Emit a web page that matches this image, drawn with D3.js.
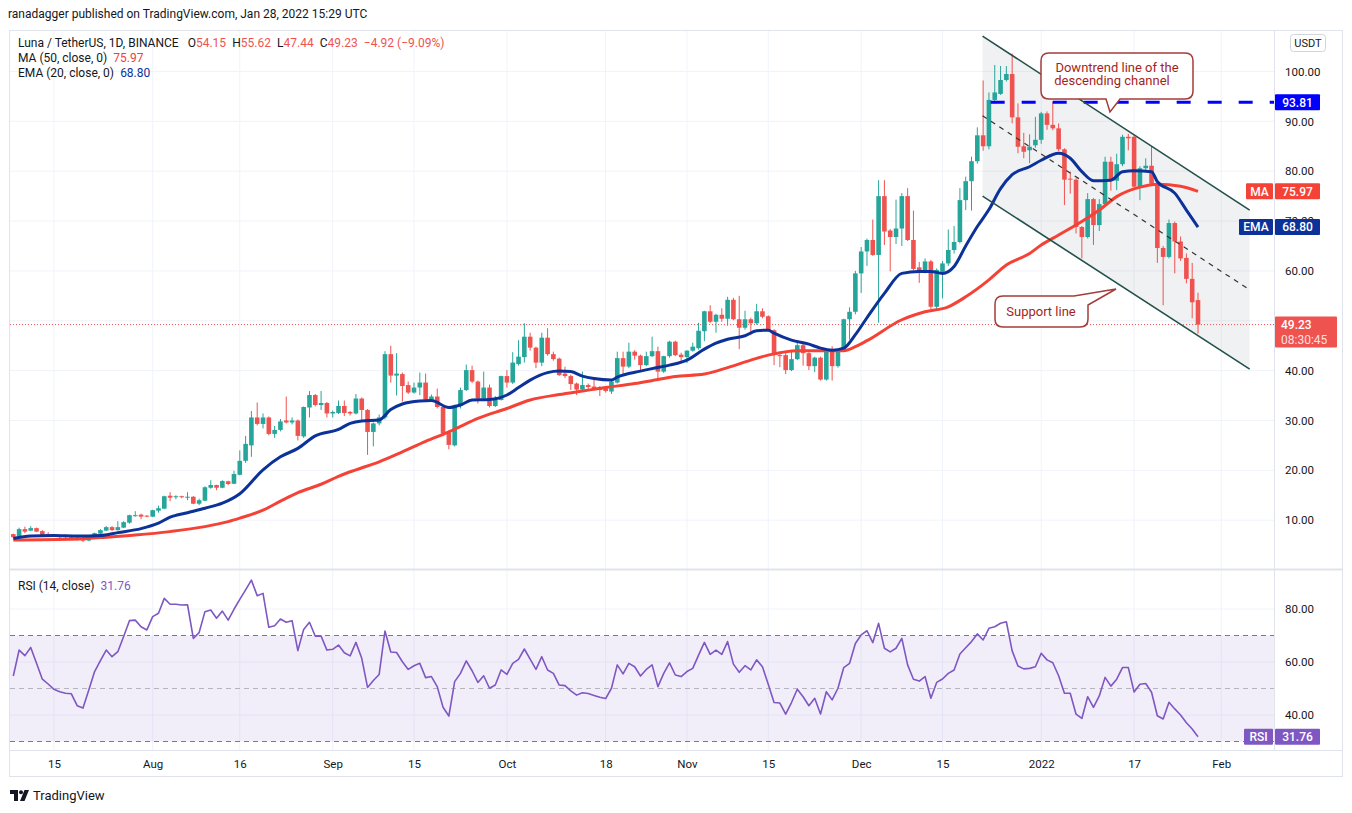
<!DOCTYPE html>
<html>
<head>
<meta charset="utf-8">
<script src="https://d3js.org/d3.v7.min.js"></script>
<title>Luna / TetherUS 1D</title>
<style>
  html, body { margin: 0; padding: 0; background: #fff; }
  svg { display: block; font-family: Roboto, "Liberation Sans", Arial, sans-serif; }
</style>
</head>
<body>
<svg id="chart" width="1352" height="813"></svg>
<script>
// ---- data (daily candles from 2021-07-08 to 2022-01-28) ----
const startDate = "2021-07-08";

const opens = [
  7.2, 6.6, 8.2, 7.9, 8.4, 7.8, 7.2, 7.0, 6.8, 6.8,
  6.7, 6.55, 6.5, 5.9, 6.55, 7.3, 7.9, 8.6, 8.0, 8.5,
  9.5, 10.9, 11.1, 10.9, 10.7, 11.9, 12.3, 14.9, 14.6, 14.8,
  14.6, 14.7, 13.3, 13.9, 16.5, 17.05, 16.5, 17.8, 17.3, 19.1,
  21.9, 25.0, 30.6, 29.3, 30.6, 27.3, 28.1, 30.0, 29.6, 30.0,
  26.8, 32.6, 35.1, 33.1, 33.5, 31.4, 31.5, 32.9, 31.7, 31.4,
  34.4, 32.1, 27.7, 29.4, 30.6, 43.3, 39.0, 39.3, 37.1, 35.6,
  36.6, 37.6, 34.2, 34.8, 32.7, 27.5, 25.0, 32.9, 36.1, 40.1,
  37.8, 34.4, 36.6, 32.9, 34.1, 38.9, 37.6, 41.3, 42.7, 46.8,
  44.6, 41.6, 46.6, 43.3, 42.4, 39.4, 38.9, 37.4, 36.2, 37.1,
  36.8, 36.7, 36.6, 35.8, 37.6, 42.5, 40.8, 43.8, 43.0, 41.1,
  42.9, 43.9, 39.8, 42.9, 45.8, 43.2, 42.7, 44.0, 44.5, 47.9,
  51.9, 49.8, 51.2, 50.4, 54.2, 50.3, 48.6, 50.3, 49.5, 51.9,
  50.9, 48.1, 43.1, 43.1, 40.1, 42.3, 45.1, 43.5, 40.9, 42.6,
  38.2, 43.8, 40.9, 44.1, 50.3, 51.8, 59.5, 63.9, 66.2, 63.2,
  75.0, 68.1, 66.8, 68.5, 75.0, 66.2, 60.7, 59.9, 61.9, 52.8,
  59.8, 61.5, 64.2, 65.8, 74.2, 78.0, 82.0, 87.2, 85.0, 94.3,
  95.5, 98.3, 99.5, 90.8, 85.0, 84.2, 85.2, 86.3, 91.6, 89.3,
  88.6, 84.4, 78.5, 78.3, 68.8, 66.8, 74.4, 69.2, 73.4, 81.9,
  78.1, 81.4, 86.9, 86.9, 76.9, 80.6, 81.1, 77.5, 64.6, 62.8,
  69.6, 65.9, 62.6, 58.4, 54.15
];
const highs = [
  7.3, 8.5, 8.7, 8.8, 8.5, 8.0, 7.6, 7.2, 7.0, 7.1,
  7.0, 6.7, 6.6, 6.7, 7.5, 8.2, 8.8, 8.8, 9.8, 9.8,
  11.1, 11.8, 11.3, 11.0, 12.1, 12.9, 14.9, 15.6, 15.0, 14.9,
  15.6, 14.8, 14.3, 16.8, 18.0, 17.1, 18.0, 17.9, 19.9, 24.0,
  26.9, 31.9, 33.6, 31.4, 30.8, 28.9, 30.3, 34.8, 30.6, 30.2,
  32.8, 35.9, 35.3, 35.9, 33.7, 32.0, 34.0, 34.0, 31.9, 35.3,
  34.6, 32.3, 29.6, 31.2, 43.9, 45.0, 43.5, 39.6, 37.8, 37.6,
  39.6, 39.4, 35.2, 36.4, 33.0, 28.0, 33.2, 36.6, 41.2, 41.0,
  38.0, 39.8, 37.2, 34.9, 39.0, 40.1, 43.7, 46.1, 49.5, 47.6,
  44.8, 47.6, 48.5, 43.8, 42.6, 40.8, 39.2, 37.6, 39.8, 37.4,
  38.5, 36.9, 36.8, 38.2, 43.8, 43.8, 45.6, 44.1, 43.2, 43.8,
  46.8, 44.8, 43.0, 46.0, 46.0, 43.6, 44.1, 45.6, 49.6, 52.0,
  53.1, 51.4, 52.5, 54.8, 54.6, 55.0, 52.0, 50.6, 53.4, 52.5,
  51.1, 48.3, 43.4, 43.6, 43.8, 45.8, 45.4, 43.7, 42.8, 42.8,
  44.5, 44.9, 44.3, 50.4, 52.7, 60.0, 64.8, 66.5, 70.3, 78.2,
  78.2, 68.4, 74.3, 75.6, 76.6, 72.1, 61.8, 62.5, 62.2, 60.5,
  62.0, 68.3, 69.0, 76.6, 78.9, 82.9, 88.8, 98.2, 95.8, 101.3,
  101.1, 101.1, 103.6, 93.6, 87.7, 87.4, 90.9, 91.9, 92.0, 93.9,
  89.6, 84.6, 79.9, 78.6, 69.0, 75.6, 74.6, 74.4, 82.9, 82.9,
  83.5, 87.3, 87.5, 87.3, 81.0, 82.6, 85.0, 78.0, 65.0, 70.3,
  69.9, 66.9, 63.5, 61.6, 55.62
];
const lows = [
  6.4, 6.4, 7.4, 7.8, 7.6, 6.9, 6.7, 6.6, 6.4, 6.4,
  6.3, 5.9, 5.6, 5.8, 6.4, 7.2, 7.8, 7.8, 7.9, 8.4,
  9.3, 10.7, 10.2, 10.6, 10.6, 11.5, 12.2, 13.8, 14.2, 14.4,
  14.0, 13.2, 13.0, 13.8, 16.3, 16.0, 16.4, 17.0, 17.2, 19.0,
  21.5, 22.7, 29.0, 28.4, 27.0, 26.5, 27.8, 29.4, 29.2, 26.0,
  26.5, 30.6, 32.8, 32.1, 30.6, 30.6, 31.3, 30.9, 31.0, 31.2,
  30.1, 23.1, 24.8, 29.0, 30.2, 37.6, 35.0, 33.8, 35.3, 35.4,
  35.1, 33.9, 33.9, 32.4, 26.8, 24.2, 24.8, 32.4, 35.9, 37.5,
  33.4, 34.1, 32.6, 32.7, 34.0, 36.6, 37.3, 41.0, 41.6, 44.0,
  40.5, 40.9, 43.0, 42.0, 38.9, 38.5, 36.1, 35.1, 35.9, 36.3,
  36.0, 34.9, 35.6, 35.3, 37.4, 39.1, 40.5, 42.2, 40.1, 40.9,
  42.7, 38.4, 39.5, 42.6, 42.9, 41.4, 41.5, 43.8, 44.2, 45.9,
  49.5, 47.6, 49.8, 49.0, 50.1, 44.3, 48.2, 47.1, 49.2, 50.5,
  48.0, 41.1, 40.7, 39.3, 39.9, 42.1, 41.0, 40.1, 39.7, 38.0,
  38.0, 38.0, 40.6, 43.9, 46.2, 51.3, 55.6, 61.0, 63.0, 49.6,
  65.2, 59.9, 65.4, 65.0, 66.0, 60.1, 57.6, 59.5, 52.3, 52.2,
  54.5, 61.0, 63.5, 65.5, 72.2, 72.1, 81.5, 84.1, 84.4, 93.5,
  95.3, 98.0, 89.6, 83.6, 82.6, 81.6, 84.7, 85.5, 88.3, 88.2,
  84.0, 73.2, 75.5, 67.5, 62.5, 66.5, 65.2, 68.0, 73.0, 76.1,
  76.2, 81.0, 84.2, 76.5, 74.2, 80.2, 77.2, 61.6, 53.1, 62.5,
  59.5, 62.0, 57.5, 50.5, 47.44
];
const closes = [
  6.6, 8.2, 7.7, 8.4, 7.7, 7.0, 6.9, 6.7, 6.6, 6.6,
  6.5, 6.0, 5.9, 6.55, 7.4, 8.0, 8.6, 8.0, 8.6, 9.6,
  11.0, 11.0, 10.7, 10.8, 12.0, 12.4, 14.8, 14.5, 14.8, 14.6,
  14.7, 13.3, 14.0, 16.6, 17.05, 16.5, 17.85, 17.25, 19.26, 21.9,
  25.3, 30.6, 29.3, 30.6, 27.3, 28.1, 29.8, 29.6, 30.0, 26.9,
  32.7, 35.1, 33.1, 33.5, 31.4, 31.7, 32.9, 31.5, 31.4, 34.4,
  32.1, 27.7, 29.4, 30.6, 43.3, 39.0, 39.4, 36.9, 35.6, 36.6,
  37.6, 34.2, 34.8, 32.7, 27.4, 25.1, 33.0, 36.1, 40.1, 37.8,
  34.4, 36.6, 32.9, 34.1, 38.9, 37.6, 41.6, 42.8, 46.8, 44.6,
  41.6, 46.6, 43.3, 42.3, 39.1, 38.9, 37.3, 36.2, 37.1, 36.7,
  36.3, 36.1, 35.9, 37.8, 42.5, 40.8, 43.8, 43.0, 41.1, 42.9,
  43.9, 39.8, 42.9, 45.8, 43.1, 42.7, 44.0, 44.8, 48.0, 51.9,
  49.8, 51.2, 50.4, 54.2, 50.3, 48.6, 50.3, 49.5, 51.9, 50.8,
  48.1, 43.3, 42.9, 40.1, 42.3, 45.1, 43.5, 40.9, 42.6, 38.2,
  43.8, 40.9, 44.1, 50.3, 51.8, 59.5, 63.9, 66.2, 63.2, 75.0,
  67.9, 66.8, 68.5, 75.0, 66.2, 60.4, 59.9, 61.9, 52.8, 60.2,
  61.5, 64.2, 65.8, 74.2, 78.0, 82.0, 87.2, 85.0, 94.3, 95.8,
  98.3, 99.5, 90.8, 84.9, 83.9, 84.9, 86.3, 91.6, 89.3, 88.6,
  84.4, 78.3, 78.3, 68.8, 66.8, 74.4, 69.2, 73.4, 81.9, 78.1,
  81.4, 86.9, 86.6, 76.9, 80.6, 81.1, 77.5, 64.6, 62.8, 69.6,
  65.9, 62.5, 58.4, 53.7, 49.23
];

// RSI (14) per candle
const rsiValues = [
  54.7, 64.5, 62.4, 65.5, 59.5, 53.5, 51.7, 49.7, 48.8, 48.2,
  48.0, 43.5, 42.6, 49.4, 56.4, 60.5, 64.5, 62.0, 63.9, 69.6,
  75.6, 75.8, 73.3, 72.1, 77.1, 78.4, 84.0, 81.8, 81.8, 81.5,
  81.6, 68.9, 71.1, 79.0, 79.6, 76.5, 79.2, 75.8, 79.9, 83.6,
  87.2, 90.9, 85.0, 85.9, 73.1, 73.7, 76.2, 75.0, 75.6, 64.3,
  72.3, 75.0, 69.7, 69.8, 64.5, 64.8, 66.4, 63.5, 62.3, 67.4,
  61.4, 50.4, 53.0, 55.3, 71.7, 63.8, 63.6, 60.1, 57.2, 58.6,
  59.5, 54.1, 54.5, 50.7, 42.9, 39.6, 52.6, 55.7, 60.4, 56.7,
  52.3, 54.8, 50.1, 51.3, 57.0, 55.3, 59.5, 61.0, 64.9, 61.1,
  57.2, 62.0, 57.0, 55.7, 51.3, 51.1, 49.1, 47.5, 48.4, 48.1,
  47.4, 46.7, 46.2, 50.1, 58.9, 55.5, 59.5, 58.2, 54.7, 57.2,
  58.9, 50.7, 55.7, 59.7, 55.1, 54.5, 56.4, 57.6, 62.6, 67.4,
  62.9, 64.5, 62.9, 67.7, 59.2, 56.1, 58.6, 57.0, 60.8, 58.2,
  51.6, 44.7, 44.5, 40.3, 44.7, 49.7, 46.9, 43.5, 46.3, 40.4,
  48.8, 45.7, 50.1, 57.9, 59.5, 67.0, 70.2, 71.8, 67.3, 74.6,
  65.2, 63.8, 65.2, 68.9, 58.9, 53.5, 52.8, 54.5, 46.3, 52.3,
  53.6, 55.7, 57.0, 63.0, 65.4, 67.7, 70.6, 68.3, 72.7, 73.3,
  74.6, 75.2, 64.2, 58.5, 57.4, 57.6, 58.2, 63.3, 60.8, 59.7,
  54.8, 48.2, 48.2, 40.3, 38.7, 46.9, 42.9, 47.2, 54.2, 50.9,
  53.5, 57.9, 57.9, 48.7, 51.6, 51.9, 48.6, 39.7, 38.5, 44.8,
  42.3, 40.0, 37.1, 34.7, 31.76
];

// moving averages: [day offset from startDate, value]
const maPoints = [
  [0, 6.0], [11, 6.2], [15, 6.5], [21, 7.0], [27, 7.7], [33, 8.7], [37, 9.7], [39, 10.4],
  [43, 12.0], [46, 13.8], [49, 15.5], [53, 17.2], [56, 18.8], [59, 20.1], [63, 21.7],
  [67, 23.7], [71, 25.8], [75, 27.7], [77, 28.8], [80, 30.4], [85, 32.4], [89, 34.1],
  [94, 35.2], [98, 35.9], [102, 36.6], [107, 37.4], [111, 38.2], [114, 38.8], [119, 39.3],
  [123, 40.6], [127, 42.1], [130, 43.1], [135, 44.0], [139, 44.0], [143, 44.0], [145, 44.8],
  [147, 46.0], [153, 50.2], [157, 51.8], [161, 52.8], [164, 54.8], [168, 58.2], [171, 61.2],
  [175, 63.5], [177, 65.2], [180, 67.2], [184, 69.9], [187, 72.2], [190, 74.9], [194, 76.8],
  [197, 77.4], [201, 77.0], [204, 75.97]
];
const emaPoints = [
  [0, 6.3], [3, 6.8], [7, 6.9], [11, 6.8], [15, 6.9], [18, 7.5], [22, 8.3], [25, 9.4],
  [27, 10.6], [30, 11.5], [33, 12.4], [36, 13.4], [39, 15.3], [43, 20.1], [46, 22.7],
  [49, 24.4], [52, 26.9], [56, 28.2], [58, 29.4], [60, 29.9], [63, 30.1], [65, 32.2],
  [67, 33.3], [70, 33.9], [72, 34.0], [75, 32.6], [77, 33.1], [79, 34.1], [82, 34.2],
  [85, 35.1], [87, 36.6], [89, 38.1], [92, 39.6], [94, 39.9], [96, 39.8], [98, 38.9],
  [100, 38.4], [103, 38.1], [104, 38.7], [108, 39.9], [110, 40.4], [113, 41.1], [116, 42.1],
  [119, 44.3], [121, 45.5], [123, 46.3], [126, 47.0], [128, 48.0], [130, 48.1], [131, 47.5],
  [134, 46.1], [137, 45.3], [139, 44.5], [141, 44.1], [143, 44.5], [145, 47.2], [147, 50.6],
  [150, 55.5], [153, 59.5], [156, 59.9], [158, 59.9], [160, 59.5], [162, 60.9], [164, 65.0],
  [166, 68.9], [168, 72.3], [170, 76.5], [172, 79.3], [175, 80.9], [177, 82.2], [180, 83.6],
  [182, 82.6], [184, 79.9], [186, 78.1], [189, 78.2], [191, 79.9], [193, 80.1], [196, 79.9],
  [197, 77.9], [200, 75.6], [202, 72.2], [204, 68.8]
];

// drawings: [day offset, price]
const channelUpper = [[166.9, 107.1], [212.9, 72.2]];
const channelLower = [[166.9, 75.0], [212.9, 40.3]];
const channelMid = [[166.9, 91.1], [212.9, 56.2]];
const resistanceLevel = 93.81;
const resistanceStart = 168.3;

const priceTicks = [10, 20, 30, 40, 50, 60, 70, 80, 90, 100];
const rsiTicks = [40, 60, 80];
const timeTicks = ["2021-07-15", "2021-08-01", "2021-08-16", "2021-09-01", "2021-09-15",
  "2021-10-01", "2021-10-18", "2021-11-01", "2021-11-15", "2021-12-01", "2021-12-15",
  "2022-01-01", "2022-01-17", "2022-02-01"];
const timeTickLabels = ["15", "Aug", "16", "Sep", "15", "Oct", "18", "Nov", "15", "Dec",
  "15", "2022", "17", "Feb"];

const last = { o: 54.15, h: 55.62, l: 47.44, c: 49.23, chg: "\u22124.92", pct: "(\u22129.09%)",
  ma: 75.97, ema: 68.80, rsi: 31.76, countdown: "08:30:45" };

// ---- layout ----
const UP = "#26a69a", DOWN = "#ef5350", MA_C = "#f44336", EMA_C = "#0c3299",
  RSI_C = "#7e57c2", TXT = "#131722", GRID = "#f0f3fa", BORDER = "#e0e3eb";
const paneL = 10, paneR = 1274, mainT = 31, mainB = 568, rsiT = 570, rsiB = 750;

const svg = d3.select("#chart");
const t0 = new Date(startDate + "T00:00:00Z");
const dayDate = d => new Date(t0.getTime() + d * 864e5);
const dates = closes.map((c, i) => d3.utcDay.offset(t0, i));

const x = d3.scaleUtc().domain([dates[0], dates[dates.length - 1]]).range([13.3, 1198]);
const y = d3.scaleLinear().domain([0, 100]).range([570, 71.5]);
const yR = d3.scaleLinear().domain([30, 80]).range([741.5, 609]);
const tickDates = timeTicks.map(s => new Date(s + "T00:00:00Z"));

const defs = svg.append("defs");
defs.append("clipPath").attr("id", "clipMain").append("rect")
  .attr("x", paneL).attr("y", mainT).attr("width", paneR - paneL).attr("height", mainB - mainT);
defs.append("clipPath").attr("id", "clipRsi").append("rect")
  .attr("x", paneL).attr("y", rsiT).attr("width", paneR - paneL).attr("height", rsiB - rsiT);

// header
svg.append("text").attr("x", 8).attr("y", 18).attr("fill", TXT).style("font-size", "12px")
  .text("ranadagger published on TradingView.com, Jan 28, 2022 15:29 UTC");

// grid
const grid = svg.append("g");
grid.selectAll("line.h").data(priceTicks).join("line")
  .attr("x1", paneL).attr("x2", paneR).attr("y1", d => y(d)).attr("y2", d => y(d))
  .attr("stroke", GRID);
grid.selectAll("line.r").data(rsiTicks).join("line")
  .attr("x1", paneL).attr("x2", paneR).attr("y1", d => yR(d)).attr("y2", d => yR(d))
  .attr("stroke", GRID);
grid.selectAll("line.v").data(tickDates).join("line")
  .attr("x1", d => x(d)).attr("x2", d => x(d)).attr("y1", mainT).attr("y2", rsiB)
  .attr("stroke", GRID);

// frame and separators
svg.append("rect").attr("x", 9.5).attr("y", 30.5).attr("width", 1333).attr("height", 746)
  .attr("fill", "none").attr("stroke", BORDER);
svg.append("line").attr("x1", 9.5).attr("x2", 1342.5).attr("y1", 569.5).attr("y2", 569.5)
  .attr("stroke", BORDER).attr("stroke-width", 2);
svg.append("line").attr("x1", 9.5).attr("x2", 1342.5).attr("y1", rsiB + 0.5).attr("y2", rsiB + 0.5)
  .attr("stroke", BORDER);
svg.append("line").attr("x1", paneR + 0.5).attr("x2", paneR + 0.5).attr("y1", 30).attr("y2", rsiB)
  .attr("stroke", BORDER);

// ---- main pane ----
const main = svg.append("g").attr("clip-path", "url(#clipMain)");
const pt = p => [x(dayDate(p[0])), y(p[1])];

// channel fill
main.append("path")
  .attr("d", d3.line()([pt(channelUpper[0]), pt(channelUpper[1]), pt(channelLower[1]), pt(channelLower[0])]) + "Z")
  .attr("fill", "rgba(110,120,140,0.1)");

// current price dotted line
main.append("line").attr("x1", paneL).attr("x2", paneR)
  .attr("y1", y(last.c)).attr("y2", y(last.c))
  .attr("stroke", DOWN).attr("stroke-dasharray", "1 2");

const candles = dates.map((d, i) => ({ d, o: opens[i], h: highs[i], l: lows[i], c: closes[i] }));
const bw = 4.6;
main.append("g").selectAll("line").data(candles).join("line")
  .attr("x1", d => x(d.d)).attr("x2", d => x(d.d))
  .attr("y1", d => y(d.h)).attr("y2", d => y(d.l))
  .attr("stroke", d => d.c >= d.o ? UP : DOWN).attr("stroke-width", 1);
main.append("g").selectAll("rect").data(candles).join("rect")
  .attr("x", d => x(d.d) - bw / 2).attr("width", bw)
  .attr("y", d => y(Math.max(d.o, d.c)))
  .attr("height", d => Math.max(1, Math.abs(y(d.o) - y(d.c))))
  .attr("fill", d => d.c >= d.o ? UP : DOWN);

const avgLine = d3.line().x(p => x(dayDate(p[0]))).y(p => y(p[1])).curve(d3.curveMonotoneX);
main.append("path").attr("d", avgLine(maPoints)).attr("fill", "none")
  .attr("stroke", MA_C).attr("stroke-width", 3).attr("stroke-linejoin", "round");
main.append("path").attr("d", avgLine(emaPoints)).attr("fill", "none")
  .attr("stroke", EMA_C).attr("stroke-width", 3).attr("stroke-linejoin", "round");

// resistance
main.append("line").attr("x1", x(dayDate(resistanceStart))).attr("x2", paneR)
  .attr("y1", y(resistanceLevel)).attr("y2", y(resistanceLevel))
  .attr("stroke", "#0000ff").attr("stroke-width", 3).attr("stroke-dasharray", "14 17");

// channel lines
[channelUpper, channelLower].forEach(c => {
  main.append("path").attr("d", d3.line()(c.map(pt))).attr("fill", "none")
    .attr("stroke", "#24504c").attr("stroke-width", 1.6);
});
main.append("path").attr("d", d3.line()(channelMid.map(pt))).attr("fill", "none")
  .attr("stroke", "#333").attr("stroke-width", 1.2).attr("stroke-dasharray", "5 5");

// callouts
const CALL_S = "#a33c3a", CALL_T = "#a51f1c";
svg.append("path")
  .attr("d", "M1049,53 H1185 Q1193,53 1193,61 V91 Q1193,99 1185,99 H1120 L1110,112 L1106,99 H1049 Q1041,99 1041,91 V61 Q1041,53 1049,53 Z")
  .attr("fill", "#fff").attr("stroke", CALL_S).attr("stroke-width", 1.5);
svg.append("text").attr("x", 1117).attr("y", 72).attr("text-anchor", "middle")
  .attr("fill", CALL_T).style("font-size", "13px").text("Downtrend line of the");
svg.append("text").attr("x", 1112).attr("y", 85).attr("text-anchor", "middle")
  .attr("fill", CALL_T).style("font-size", "13px").text("descending channel");

svg.append("path")
  .attr("d", "M1003,296 H1074 L1116,289 L1088,305 V319 Q1088,327 1080,327 H1003 Q995,327 995,319 V304 Q995,296 1003,296 Z")
  .attr("fill", "#fff").attr("stroke", CALL_S).attr("stroke-width", 1.5);
svg.append("text").attr("x", 1041).attr("y", 315.5).attr("text-anchor", "middle")
  .attr("fill", CALL_T).style("font-size", "13px").text("Support line");

// ---- RSI pane ----
const rsiG = svg.append("g").attr("clip-path", "url(#clipRsi)");
rsiG.append("rect").attr("x", paneL).attr("width", paneR - paneL)
  .attr("y", yR(70)).attr("height", yR(30) - yR(70)).attr("fill", "rgba(126,87,194,0.1)");
[[70, "#787b86"], [50, "rgba(120,123,134,0.5)"], [30, "#787b86"]].forEach(([v, c]) => {
  rsiG.append("line").attr("x1", paneL).attr("x2", paneR).attr("y1", yR(v)).attr("y2", yR(v))
    .attr("stroke", c).attr("stroke-dasharray", "5 4");
});
rsiG.append("path")
  .attr("d", d3.line().x((v, i) => x(dates[i])).y(v => yR(v))(rsiValues))
  .attr("fill", "none").attr("stroke", RSI_C).attr("stroke-width", 1.6).attr("stroke-linejoin", "round");

// ---- axes ----
const styleAxis = g => {
  g.select(".domain").remove();
  g.selectAll("text").attr("fill", TXT).style("font-size", "11.5px")
    .style("font-family", "Roboto, 'Liberation Sans', Arial, sans-serif");
};
svg.append("g").attr("transform", "translate(1285,0)")
  .call(d3.axisRight(y).tickValues(priceTicks).tickSize(0).tickPadding(0).tickFormat(d3.format(".2f")))
  .call(styleAxis);
svg.append("g").attr("transform", "translate(1285,0)")
  .call(d3.axisRight(yR).tickValues(rsiTicks).tickSize(0).tickPadding(0).tickFormat(d3.format(".2f")))
  .call(styleAxis);
svg.append("g").attr("transform", `translate(0,${rsiB + 10})`)
  .call(d3.axisBottom(x).tickValues(tickDates).tickSize(0).tickPadding(0)
    .tickFormat((d, i) => timeTickLabels[i]))
  .call(styleAxis);

// price scale tags
function tag(xl, w, yc, fill, label, h = 16) {
  svg.append("rect").attr("x", xl).attr("y", yc - h / 2).attr("width", w).attr("height", h)
    .attr("fill", fill).attr("rx", 1);
  svg.append("text").attr("x", xl + w / 2).attr("y", yc + 4.3).attr("text-anchor", "middle")
    .attr("fill", "#fff").style("font-size", "12px").style("font-weight", 500).text(label);
}
tag(1275, 45, y(resistanceLevel), "#0000ff", resistanceLevel.toFixed(2));
tag(1246, 27, y(last.ma), MA_C, "MA");
tag(1275, 45, y(last.ma), MA_C, last.ma.toFixed(2));
tag(1239, 34, y(last.ema), EMA_C, "EMA");
tag(1275, 45, y(last.ema), EMA_C, last.ema.toFixed(2));
tag(1244, 29, yR(last.rsi), RSI_C, "RSI");
tag(1275, 45, yR(last.rsi), RSI_C, last.rsi.toFixed(2));

const pY = y(last.c);
svg.append("rect").attr("x", 1275).attr("y", pY - 8).attr("width", 62).attr("height", 31)
  .attr("fill", DOWN).attr("rx", 1);
svg.append("text").attr("x", 1281).attr("y", pY + 4.3).attr("fill", "#fff")
  .style("font-size", "12px").style("font-weight", 500).text(last.c.toFixed(2));
svg.append("text").attr("x", 1281).attr("y", pY + 19).attr("fill", "rgba(255,255,255,0.85)")
  .style("font-size", "12px").text(last.countdown);

// USDT button
svg.append("rect").attr("x", 1290.5).attr("y", 34.5).attr("width", 35).attr("height", 17)
  .attr("rx", 3).attr("fill", "#fff").attr("stroke", "#d1d4dc");
svg.append("text").attr("x", 1308).attr("y", 47).attr("text-anchor", "middle")
  .attr("fill", TXT).style("font-size", "11px").text("USDT");

// ---- legends ----
const leg = svg.append("g").style("font-size", "12px").attr("fill", TXT);
const l1 = leg.append("text").attr("x", 18).attr("y", 46.5);
l1.append("tspan").text("Luna / TetherUS, 1D, BINANCE\u2002 O");
l1.append("tspan").attr("fill", DOWN).text(last.o.toFixed(2));
l1.append("tspan").text("\u2002H");
l1.append("tspan").attr("fill", DOWN).text(last.h.toFixed(2));
l1.append("tspan").text("\u2002L");
l1.append("tspan").attr("fill", DOWN).text(last.l.toFixed(2));
l1.append("tspan").text("\u2002C");
l1.append("tspan").attr("fill", DOWN).text(last.c.toFixed(2) + "\u2002" + last.chg + " " + last.pct);
const l2 = leg.append("text").attr("x", 18).attr("y", 62);
l2.append("tspan").text("MA (50, close, 0)\u2002");
l2.append("tspan").attr("fill", MA_C).text(last.ma.toFixed(2));
const l3 = leg.append("text").attr("x", 18).attr("y", 77);
l3.append("tspan").text("EMA (20, close, 0)\u2002");
l3.append("tspan").attr("fill", EMA_C).text(last.ema.toFixed(2));
const l4 = leg.append("text").attr("x", 18).attr("y", 590);
l4.append("tspan").text("RSI (14, close)\u2002");
l4.append("tspan").attr("fill", RSI_C).text(last.rsi.toFixed(2));

// ---- TradingView mark ----
const logo = svg.append("g").attr("fill", TXT);
logo.append("path").attr("d", "M10,790 H18 V801 H14 V794 H10 Z");
logo.append("circle").attr("cx", 21).attr("cy", 792.3).attr("r", 2);
logo.append("path").attr("d", "M24.5,790 H29 L24.5,801 H20 Z");
svg.append("text").attr("x", 33).attr("y", 800).attr("fill", TXT)
  .style("font-size", "13px").text("TradingView");
</script>
</body>
</html>
